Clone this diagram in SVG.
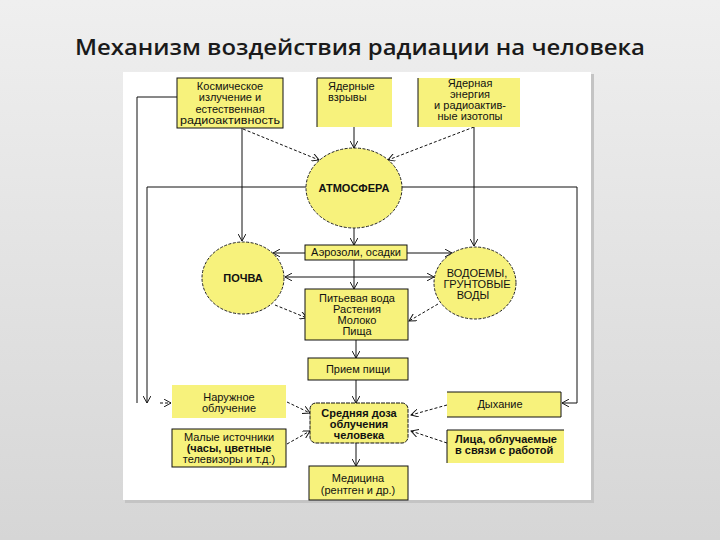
<svg xmlns="http://www.w3.org/2000/svg" width="720" height="540" viewBox="0 0 720 540">
<defs>
<linearGradient id="bg" x1="0" y1="0" x2="0" y2="1">
<stop offset="0" stop-color="#efefef"/>
<stop offset="1" stop-color="#d6d6d6"/>
</linearGradient>
<marker id="ar" viewBox="0 0 10 10" refX="9" refY="5" markerWidth="8" markerHeight="8" markerUnits="userSpaceOnUse" orient="auto">
<path d="M0,0 L9,5 L0,10" fill="none" stroke="#111" stroke-width="1.2"/>
</marker>
<marker id="as" viewBox="0 0 10 10" refX="1" refY="5" markerWidth="8" markerHeight="8" markerUnits="userSpaceOnUse" orient="auto">
<path d="M10,0 L1,5 L10,10" fill="none" stroke="#111" stroke-width="1.2"/>
</marker>
</defs>
<style>
.y{fill:#f7f27c}
.b{stroke:#111;stroke-width:1;fill:none}
.yb{fill:#f7f27c;stroke:#111;stroke-width:1}
.c{fill:#f7f27c;stroke:#222;stroke-width:1;stroke-dasharray:3,1.5}
.t{font-family:"Liberation Sans",Arial,sans-serif;font-size:11px;fill:#111;text-anchor:middle}
.tl{font-family:"Liberation Sans",Arial,sans-serif;font-size:11px;fill:#111}
.bo{font-weight:bold}
.s{stroke:#111;stroke-width:1;fill:none;marker-end:url(#ar)}
.d{stroke:#111;stroke-width:1;fill:none;stroke-dasharray:3,2;marker-end:url(#ar)}
.p{stroke:#111;stroke-width:1;fill:none}
</style>
<rect width="720" height="540" fill="url(#bg)"/>
<rect x="125" y="74" width="469" height="429" fill="#c4c4c4"/>
<rect x="123" y="72" width="468" height="428" fill="#ffffff"/>
<text x="360" y="55" font-family="'Open Sans','Noto Sans',sans-serif" font-size="22" font-weight="600" fill="#1a1a1a" text-anchor="middle" textLength="570" lengthAdjust="spacingAndGlyphs">Механизм воздействия радиации на человека</text>

<g id="connectors">
<polyline class="p" points="177,97 137,97 137,403"/>
<polyline class="s" points="306,187 147,187 147,403"/>
<line class="d" x1="160" y1="403" x2="171" y2="403"/>
<line class="s" x1="242" y1="128" x2="242" y2="241"/>
<line class="d" x1="243" y1="129" x2="319" y2="160"/>
<line class="s" x1="354" y1="127" x2="354" y2="148"/>
<line class="d" x1="474" y1="127" x2="388" y2="160"/>
<line class="s" x1="474" y1="127" x2="474" y2="246"/>
<polyline class="s" points="402,187 577,187 577,403 562,403"/>
<line class="s" x1="354" y1="228" x2="354" y2="245"/>
<line class="s" x1="305" y1="253" x2="273" y2="253"/>
<line class="s" x1="407" y1="253" x2="452" y2="253"/>
<line class="s" x1="354" y1="260" x2="354" y2="289"/>
<line class="p" x1="285" y1="277" x2="434" y2="277" marker-start="url(#as)" marker-end="url(#ar)"/>
<line class="d" x1="275" y1="305" x2="307" y2="318"/>
<line class="d" x1="438" y1="304" x2="409" y2="321"/>
<line class="s" x1="356" y1="340" x2="356" y2="358"/>
<line class="s" x1="356" y1="380" x2="356" y2="403"/>
<line class="s" x1="356" y1="443" x2="356" y2="466"/>
<line class="d" x1="287" y1="402" x2="310" y2="413"/>
<line class="d" x1="287" y1="444" x2="310" y2="431"/>
<line class="d" x1="447" y1="405" x2="411" y2="415"/>
<line class="d" x1="447" y1="443" x2="411" y2="431"/>
</g>

<g id="kosm">
<rect class="yb" x="177" y="78" width="106" height="50"/>
<text class="t" x="230" y="90">Космическое</text>
<text class="t" x="230" y="101">излучение и</text>
<text class="t" x="230" y="113">естественная</text>
<text class="t" x="230" y="124" textLength="100" lengthAdjust="spacingAndGlyphs">радиоактивность</text>
</g>
<g id="vzryvy">
<rect class="y" x="317" y="78" width="75" height="49"/>
<polyline class="b" points="317,127 317,78 392,78"/>
<text class="tl" x="328" y="90">Ядерные</text>
<text class="tl" x="328" y="101">взрывы</text>
</g>
<g id="energy">
<rect class="y" x="418" y="78" width="102" height="49"/>
<line class="b" x1="418" y1="78" x2="418" y2="127"/>
<text class="t" x="470" y="87">Ядерная</text>
<text class="t" x="470" y="98">энергия</text>
<text class="t" x="470" y="109">и радиоактив-</text>
<text class="t" x="470" y="120">ные изотопы</text>
</g>
<g id="atm">
<ellipse class="c" cx="354" cy="188" rx="48" ry="40"/>
<text class="t bo" x="354" y="192">АТМОСФЕРА</text>
</g>
<g id="aero">
<rect class="yb" x="305" y="245" width="102" height="15"/>
<text class="t" x="356" y="256">Аэрозоли, осадки</text>
</g>
<g id="pochva">
<ellipse class="c" cx="243" cy="278" rx="41" ry="36"/>
<text class="t bo" x="243" y="282">ПОЧВА</text>
</g>
<g id="vodoemy">
<ellipse class="c" cx="475" cy="283" rx="41" ry="36"/>
<text class="t" x="477" y="277">ВОДОЕМЫ,</text>
<text class="t" x="477" y="288">ГРУНТОВЫЕ</text>
<text class="t" x="473" y="299">ВОДЫ</text>
</g>
<g id="pitevaya">
<rect class="yb" x="305" y="289" width="103" height="51"/>
<text class="t" x="357" y="302">Питьевая вода</text>
<text class="t" x="357" y="313">Растения</text>
<text class="t" x="357" y="324">Молоко</text>
<text class="t" x="357" y="335">Пища</text>
</g>
<g id="priem">
<rect class="yb" x="308" y="358" width="100" height="22"/>
<text class="t" x="358" y="373">Прием пищи</text>
</g>
<g id="doza">
<rect class="yb" x="310" y="403" width="98" height="40" rx="6" stroke-dasharray="4,1"/>
<text class="t bo" x="359" y="417">Средняя доза</text>
<text class="t bo" x="359" y="428">облучения</text>
<text class="t bo" x="359" y="439">человека</text>
</g>
<g id="medicina">
<rect class="yb" x="309" y="466" width="99" height="34"/>
<text class="t" x="358" y="482">Медицина</text>
<text class="t" x="358" y="494">(рентген и др.)</text>
</g>
<g id="naruzh">
<rect class="y" x="172" y="385" width="114" height="33"/>
<text class="t" x="229" y="401">Наружное</text>
<text class="t" x="229" y="412">облучение</text>
</g>
<g id="malye">
<rect class="yb" x="172" y="429" width="114" height="38"/>
<text class="t" x="229" y="441">Малые источники</text>
<text class="t bo" x="229" y="452">(часы, цветные</text>
<text class="t" x="229" y="463">телевизоры и т.д.)</text>
</g>
<g id="dyhanie">
<rect class="y" x="447" y="392" width="114" height="25"/>
<polyline class="b" points="447,392 561,392 561,417 447,417"/>
<text class="t" x="500" y="408">Дыхание</text>
</g>
<g id="lica">
<rect class="y" x="447" y="430" width="117" height="33"/>
<polyline class="b" points="447,463 447,430 564,430"/>
<text class="tl bo" x="455" y="443">Лица, облучаемые</text>
<text class="tl bo" x="455" y="454">в связи с работой</text>
</g>
</svg>
